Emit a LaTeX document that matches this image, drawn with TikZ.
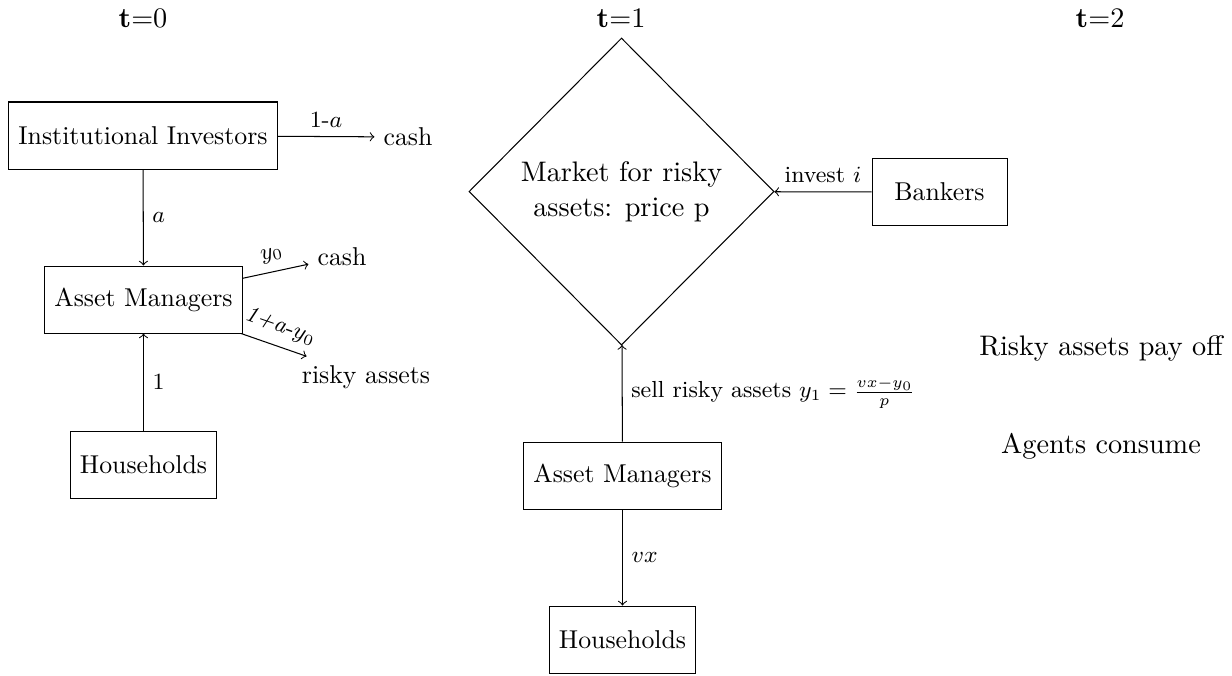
\documentclass[tikz,border=0pt]{standalone}
\usetikzlibrary{shapes.geometric}
\def\pxu{0.3876pt}
\begin{document}
\begin{tikzpicture}[x=\pxu,y=-\pxu,
  boxnode/.style={draw,rectangle,minimum height=67*\pxu,inner xsep=3.7pt},
  plain/.style={inner sep=3.33pt},
  bigtext/.style={font=\fontsize{10.95}{13.4}\selectfont},
  arr/.style={->},
  lab/.style={font=\small}]
\useasboundingbox (0,0) rectangle (1232,675);
% time headers
\node[plain,bigtext] (t0) at (143,18.5) {\textbf{t}=0};
\node[plain,bigtext] (t1) at (621,18.5) {\textbf{t}=1};
\node[plain,bigtext] (t2) at (1100,18.5) {\textbf{t}=2};
% t=0
\node[boxnode] (ii) at (143,135.5) {Institutional Investors};
\node[plain] (cashA) at (408,137) {cash};
\node[boxnode] (amA) at (143.5,299.5) {Asset Managers};
\node[boxnode] (hhA) at (143.5,464.5) {Households};
\node[plain] (cashB) at (342,257) {cash};
\node[plain] (risky) at (366,377) {risky assets};
\draw[arr] (ii) -- node[lab,above] {1-$a$} (cashA);
\draw[arr] (ii) -- node[lab,right] {$a$} (amA);
\draw[arr] (hhA) -- node[lab,right] {1} (amA);
\draw[arr] (amA) -- node[lab,above,sloped] {$y_0$} (cashB);
\draw[arr] (amA) -- node[lab,above,sloped] {\textit{1+a}-$y_0$} (risky);
% t=1
\node[draw,diamond,bigtext,minimum width=305*\pxu,minimum height=307*\pxu,inner sep=0pt,align=center] (mkt) at (621.5,191.5) {Market for risky\\assets: price p};
\node[boxnode,minimum width=135*\pxu] (bank) at (939.5,192) {Bankers};
\node[boxnode] (amB) at (622.5,475.5) {Asset Managers};
\node[boxnode] (hhB) at (622.5,639.5) {Households};
\draw[arr] (bank) -- node[lab,above] {invest $i$} (mkt);
\draw[arr] (amB) -- node[lab,right] {sell risky assets $y_1=\frac{vx-y_0}{p}$} (mkt);
\draw[arr] (amB) -- node[lab,right] {$vx$} (hhB);
% t=2
\node[plain,bigtext] (payoff) at (1101,348) {Risky assets pay off};
\node[plain,bigtext] (consume) at (1101,446) {Agents consume};
\end{tikzpicture}
\end{document}
